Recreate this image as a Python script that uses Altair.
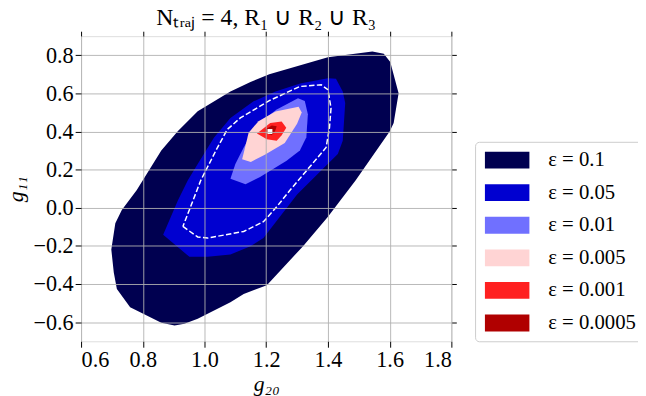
import altair as alt
import pandas as pd

# ---------------- data ----------------
levels = ["ε = 0.1", "ε = 0.05", "ε = 0.01", "ε = 0.005", "ε = 0.001", "ε = 0.0005"]
colors = ["#000050", "#0000d0", "#7070ff", "#ffd4d4", "#ff2020", "#b00000"]

x_eps_1e1 = [0.780, 0.860, 0.914, 0.978, 1.084, 1.149, 1.210, 1.400, 1.544, 1.581, 1.602, 1.629,
             1.613, 1.600, 1.490, 1.400, 1.320, 1.202, 1.127, 1.084, 0.978, 0.935, 0.903, 0.860,
             0.759, 0.716, 0.706, 0.698, 0.711, 0.732]
y_eps_1e1 = [0.092, 0.300, 0.403, 0.506, 0.610, 0.660, 0.700, 0.790, 0.820, 0.808, 0.765, 0.600,
             0.445, 0.400, 0.144, -0.047, -0.200, -0.406, -0.452, -0.495, -0.582, -0.608, -0.617, -0.603,
             -0.521, -0.426, -0.340, -0.219, -0.081, -0.012]

x_eps_5e2 = [0.866, 0.914, 0.946, 0.978, 1.031, 1.084, 1.159, 1.230, 1.310, 1.400, 1.426, 1.448,
             1.456, 1.448, 1.432, 1.300, 1.191, 1.149, 1.084, 1.010, 0.951]
y_eps_5e2 = [-0.141, 0.040, 0.144, 0.230, 0.368, 0.471, 0.558, 0.610, 0.652, 0.679, 0.676, 0.610,
             0.549, 0.351, 0.282, 0.070, -0.159, -0.202, -0.245, -0.257, -0.257]

x_eps_1e2 = [1.084, 1.100, 1.127, 1.170, 1.234, 1.303, 1.325, 1.335, 1.330, 1.309, 1.266, 1.180, 1.133]
y_eps_1e2 = [0.152, 0.230, 0.316, 0.437, 0.515, 0.575, 0.560, 0.490, 0.370, 0.300, 0.247, 0.161, 0.123]

x_eps_5e3 = [1.122, 1.150, 1.197, 1.260, 1.300, 1.315, 1.305, 1.230, 1.175, 1.143]
y_eps_5e3 = [0.255, 0.240, 0.280, 0.340, 0.440, 0.500, 0.530, 0.505, 0.454, 0.394]

x_eps_1e3 = [1.170, 1.213, 1.250, 1.265, 1.250, 1.234, 1.202]
y_eps_1e3 = [0.390, 0.445, 0.452, 0.420, 0.380, 0.352, 0.360]

x_eps_5e4 = [1.197, 1.218, 1.234, 1.229, 1.218, 1.202]
y_eps_5e4 = [0.411, 0.432, 0.428, 0.403, 0.380, 0.390]

# dashed white contour
x_dash = [0.930, 0.978, 1.010, 1.127, 1.191, 1.234, 1.277, 1.394, 1.405, 1.410, 1.400, 1.378,
          1.309, 1.210, 1.116, 1.074, 1.042, 0.988, 0.930]
y_dash = [-0.098, -0.153, -0.159, -0.124, -0.073, 0.005, 0.092, 0.316, 0.420, 0.523, 0.619, 0.645,
          0.636, 0.562, 0.471, 0.411, 0.316, 0.144, -0.098]

# best estimate point
x_best = [1.212]
y_best = [0.400]

x_ticks = [0.6, 0.8, 1.0, 1.2, 1.4, 1.6, 1.8]
y_ticks = [-0.6, -0.4, -0.2, 0.0, 0.2, 0.4, 0.6, 0.8]

title_text = "Nₜᵣₐⱼ = 4, R₁ ∪ R₂ ∪ R₃"
x_title = "g₂₀"
y_title = "g₁₁"

# ---------------- build tables ----------------
polys = [
    (levels[0], x_eps_1e1, y_eps_1e1),
    (levels[1], x_eps_5e2, y_eps_5e2),
    (levels[2], x_eps_1e2, y_eps_1e2),
    (levels[3], x_eps_5e3, y_eps_5e3),
    (levels[4], x_eps_1e3, y_eps_1e3),
    (levels[5], x_eps_5e4, y_eps_5e4),
]
rows = []
for lev, xs, ys in polys:
    for i, (a, b) in enumerate(zip(xs, ys)):
        rows.append({"level": lev, "idx": i, "x": a, "y": b})
df = pd.DataFrame(rows)
df_dash = pd.DataFrame({"idx": list(range(len(x_dash))), "x": x_dash, "y": y_dash})
df_best = pd.DataFrame({"x": x_best, "y": y_best})

FONT = "Liberation Serif"
xs_scale = alt.Scale(domain=[0.6, 1.8], nice=False, zero=False)
ys_scale = alt.Scale(domain=[-0.7, 0.9], nice=False, zero=False)

color_scale = alt.Scale(domain=levels, range=colors)
legend = alt.Legend(
    title=None, orient="none", legendX=399, legendY=107,
    symbolType="M-2.65,-1H2.65V1H-2.65Z", symbolSize=289, symbolStrokeWidth=0,
    symbolOffset=14, labelOffset=31,
    labelFont=FONT, labelFontSize=21, labelColor="black", labelLimit=300,
    rowPadding=11, padding=8, strokeColor="#cccccc", fillColor="white", cornerRadius=4,
)

layers = []
for k, lev in enumerate(levels):
    layers.append(
        alt.Chart(df).transform_filter(alt.datum.level == lev)
        .mark_line(filled=True, interpolate="linear-closed", strokeWidth=0)
        .encode(
            x=alt.X("x:Q", scale=xs_scale, axis=None),
            y=alt.Y("y:Q", scale=ys_scale, axis=None),
            color=alt.Color("level:N", scale=color_scale, legend=legend),
            order=alt.Order("idx:Q"),
        )
    )

main_x_axis = alt.Axis(
    orient="bottom", values=x_ticks, format=".1f", title=x_title,
    labelFont=FONT, labelFontSize=22.5, labelColor="black", labelPadding=2,
    tickColor="black", tickSize=6, tickWidth=1, domain=False,
    grid=True, gridColor="#b0b0b0", gridWidth=0.9,
    titleFont=FONT, titleFontSize=22, titleFontStyle="italic", titleFontWeight="normal",
    titleColor="black", titlePadding=2, zindex=1,
)
main_y_axis = alt.Axis(
    orient="left", values=y_ticks, format=".1f", title=y_title,
    labelFont=FONT, labelFontSize=22.5, labelColor="black", labelPadding=2,
    tickColor="black", tickSize=6, tickWidth=1, domain=False,
    grid=True, gridColor="#b0b0b0", gridWidth=0.9,
    titleFont=FONT, titleFontSize=22, titleFontStyle="italic", titleFontWeight="normal",
    titleColor="black", titlePadding=5, zindex=1,
)

dash = alt.Chart(df_dash).mark_line(
    color="white", strokeWidth=1.5, strokeDash=[5.5, 2.4]
).encode(
    x=alt.X("x:Q", scale=xs_scale, axis=main_x_axis),
    y=alt.Y("y:Q", scale=ys_scale, axis=main_y_axis),
    order=alt.Order("idx:Q"),
)
layers.append(dash)

best = alt.Chart(df_best).mark_square(size=25, color="white", opacity=1).encode(
    x=alt.X("x:Q", scale=xs_scale, axis=alt.Axis(
        orient="top", values=x_ticks, labels=False, grid=False, domain=False,
        tickColor="black", tickSize=5, tickWidth=1, minExtent=0, title="")),
    y=alt.Y("y:Q", scale=ys_scale, axis=alt.Axis(
        orient="right", values=y_ticks, labels=False, grid=False, domain=False,
        tickColor="black", tickSize=5, tickWidth=1, minExtent=0, title="")),
)
layers.append(best)

chart = alt.layer(*layers).resolve_axis(x="independent", y="independent").properties(
    width=375, height=309,
    title=alt.TitleParams(text=title_text, font=FONT, fontSize=24, fontWeight="normal",
                          color="black", anchor="middle", baseline="alphabetic", offset=-18.5),
    autosize=alt.AutoSizeParams(type="none"),
    padding={"left": 74, "top": 26, "right": 189, "bottom": 60},
).configure_view(stroke="black", strokeWidth=1).configure(background="white")

chart.save("out.html", embed_options={"renderer": "svg", "actions": False})
